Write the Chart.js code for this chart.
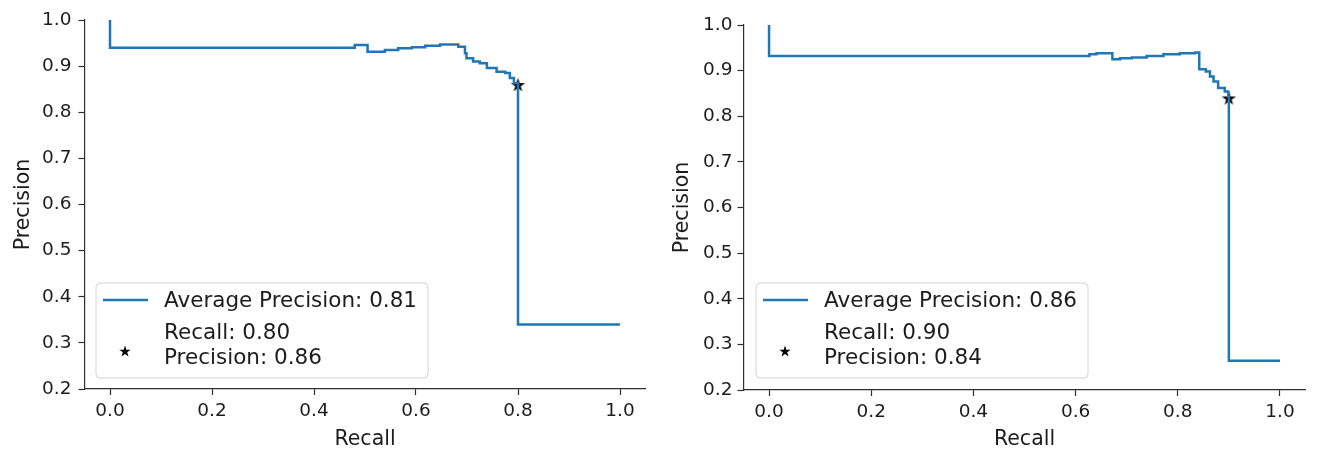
<!DOCTYPE html>
<html>
<head>
<meta charset="utf-8">
<script src="https://cdn.jsdelivr.net/npm/chart.js@4.4.0/dist/chart.umd.min.js"></script>
<style>
html, body { margin: 0; padding: 0; background: #fff; }
#wrap { position: relative; width: 1319px; height: 453px; overflow: hidden; }
#wrap canvas { position: absolute; top: 0; }
</style>
</head>
<body>
<div id="wrap">
    <canvas id="pr-left" width="660" height="453" style="left:0"></canvas>
    <canvas id="pr-right" width="659" height="453" style="left:660px"></canvas>
</div>
<script>
'use strict';

// precision / recall curve, left model (steps-post)
const leftRecall = [0.0, 0.0, 0.480, 0.505, 0.539, 0.565, 0.592, 0.618, 0.647, 0.683,
    0.696, 0.699, 0.712, 0.725, 0.739, 0.758, 0.775, 0.784, 0.792, 0.80, 0.80, 1.0];
const leftPrecision = [1.0, 0.940, 0.946, 0.931, 0.935, 0.939, 0.941, 0.944, 0.947, 0.942,
    0.928, 0.917, 0.910, 0.906, 0.896, 0.888, 0.885, 0.874, 0.863, 0.860, 0.340, 0.340];

// precision / recall curve, right model (steps-post)
const rightRecall = [0.0, 0.0, 0.627, 0.641, 0.672, 0.687, 0.710, 0.739, 0.772, 0.804,
    0.834, 0.842, 0.855, 0.863, 0.870, 0.879, 0.892, 0.899, 0.90, 0.90, 1.0];
const rightPrecision = [1.0, 0.932, 0.936, 0.938, 0.925, 0.927, 0.929, 0.932, 0.936, 0.938,
    0.940, 0.903, 0.898, 0.887, 0.876, 0.862, 0.854, 0.843, 0.840, 0.264, 0.264];

// operating points and summary numbers
const opRecall = [0.80, 0.90];
const opPrecision = [0.86, 0.84];
const avgPrecision = [0.81, 0.86];

const xTicks = [0.0, 0.2, 0.4, 0.6, 0.8, 1.0];
const yTicks = [0.2, 0.3, 0.4, 0.5, 0.6, 0.7, 0.8, 0.9, 1.0];

const FONT = "'DejaVu Sans', 'Liberation Sans', sans-serif";
const BLUE = '#1f77b4';
const INK = '#1c1c1c';
const AXIS = '#2e2e2e';

function makeStar(r, color) {
    const size = Math.ceil(r * 2 + 2);
    const c = document.createElement('canvas');
    c.width = size;
    c.height = size;
    const g = c.getContext('2d');
    const cx = size / 2, cy = size / 2 + r * 0.1;
    g.beginPath();
    for (let i = 0; i < 10; i++) {
        const rad = i % 2 === 0 ? r : r * 0.382;
        const a = -Math.PI / 2 + i * Math.PI / 5;
        g.lineTo(cx + rad * Math.cos(a), cy + rad * Math.sin(a));
    }
    g.closePath();
    g.fillStyle = color;
    g.fill();
    return c;
}

const plotStar = makeStar(7.5, '#000');
const legendStar = makeStar(6, '#000');

// matplotlib style legend in the lower left corner of the axes
const legendBox = {
    id: 'legendBox',
    afterDatasetsDraw(chart, args, opts) {
        const ctx = chart.ctx;
        const ca = chart.chartArea;
        ctx.save();
        ctx.font = '21.5px ' + FONT;
        const lines = [opts.curveLabel].concat(opts.pointLabel);
        const textW = Math.max.apply(null, lines.map(t => ctx.measureText(t).width));
        const h = 95;
        const w = 68 + textW + 11;
        const x = ca.left + opts.dx;
        const y = ca.bottom - opts.dy - h;

        ctx.beginPath();
        ctx.roundRect(x, y, w, h, 4);
        ctx.fillStyle = 'rgba(255,255,255,0.8)';
        ctx.fill();
        ctx.strokeStyle = '#d4d4d4';
        ctx.lineWidth = 1;
        ctx.stroke();

        ctx.beginPath();
        ctx.moveTo(x + 7, y + 17);
        ctx.lineTo(x + 52, y + 17);
        ctx.strokeStyle = BLUE;
        ctx.lineWidth = 2.5;
        ctx.stroke();

        ctx.drawImage(legendStar, x + 29 - legendStar.width / 2, y + 68 - legendStar.height / 2);

        ctx.fillStyle = INK;
        ctx.textBaseline = 'middle';
        ctx.textAlign = 'left';
        ctx.fillText(lines[0], x + 68, y + 18);
        ctx.fillText(lines[1], x + 68, y + 50);
        ctx.fillText(lines[2], x + 68, y + 75);
        ctx.restore();
    }
};

function buildChart(canvasId, recall, precision, idx, lay) {
    const curve = recall.map((r, i) => ({x: r, y: precision[i]}));
    const ctx = document.getElementById(canvasId).getContext('2d');
    return new Chart(ctx, {
        type: 'line',
        data: {
            datasets: [
                {
                    data: curve,
                    borderColor: BLUE,
                    borderWidth: 2.5,
                    stepped: 'before',
                    pointRadius: 0,
                    fill: false,
                },
                {
                    data: [{x: opRecall[idx], y: opPrecision[idx]}],
                    showLine: false,
                    pointStyle: plotStar,
                    pointRadius: 7,
                },
            ],
        },
        plugins: [legendBox],
        options: {
            responsive: false,
            animation: false,
            events: [],
            layout: {
                padding: {left: 0, top: lay.top, right: lay.right, bottom: 0},
            },
            plugins: {
                legend: {display: false},
                tooltip: {enabled: false},
                legendBox: {
                    curveLabel: 'Average Precision: ' + avgPrecision[idx].toFixed(2),
                    pointLabel: [
                        'Recall: ' + opRecall[idx].toFixed(2),
                        'Precision: ' + opPrecision[idx].toFixed(2),
                    ],
                    dx: lay.legendDx,
                    dy: lay.legendDy,
                },
            },
            scales: {
                x: {
                    type: 'linear',
                    min: -0.05,
                    max: 1.05,
                    afterBuildTicks: s => { s.ticks = xTicks.map(v => ({value: v})); },
                    afterFit: s => { s.height = lay.xHeight; },
                    grid: {
                        drawOnChartArea: false,
                        drawTicks: true,
                        tickLength: 6,
                        tickColor: AXIS,
                        tickWidth: 1.2,
                    },
                    border: {display: true, color: AXIS, width: 1.2},
                    ticks: {
                        color: INK,
                        font: {family: FONT, size: 18.5},
                        padding: 5,
                        maxRotation: 0,
                        callback: v => Number(v).toFixed(1),
                    },
                    title: {
                        display: true,
                        text: 'Recall',
                        color: INK,
                        font: {family: FONT, size: 20.5},
                        padding: {top: 0, bottom: 1},
                    },
                },
                y: {
                    min: 0.2,
                    max: 1.0,
                    afterBuildTicks: s => { s.ticks = yTicks.map(v => ({value: v})); },
                    afterFit: s => { s.width = lay.yWidth; },
                    grid: {
                        drawOnChartArea: false,
                        drawTicks: true,
                        tickLength: 6,
                        tickColor: AXIS,
                        tickWidth: 1.2,
                    },
                    border: {display: true, color: AXIS, width: 1.2},
                    ticks: {
                        color: INK,
                        font: {family: FONT, size: 18.5},
                        padding: lay.yTickPad,
                        callback: v => Number(v).toFixed(1),
                    },
                    title: {
                        display: true,
                        text: 'Precision',
                        color: INK,
                        font: {family: FONT, size: 20.5},
                        padding: {top: lay.yTitlePad, bottom: 0},
                    },
                },
            },
        },
    });
}

buildChart('pr-left', leftRecall, leftPrecision, 0, {
    top: 20, right: 14.5, xHeight: 64, yWidth: 84.5,
    yTickPad: 7, yTitlePad: 11, legendDx: 11.5, legendDy: 11,
});
buildChart('pr-right', rightRecall, rightPrecision, 1, {
    top: 25, right: 13.5, xHeight: 63, yWidth: 83.5,
    yTickPad: 5, yTitlePad: 10, legendDx: 12.5, legendDy: 12,
});
</script>
</body>
</html>
